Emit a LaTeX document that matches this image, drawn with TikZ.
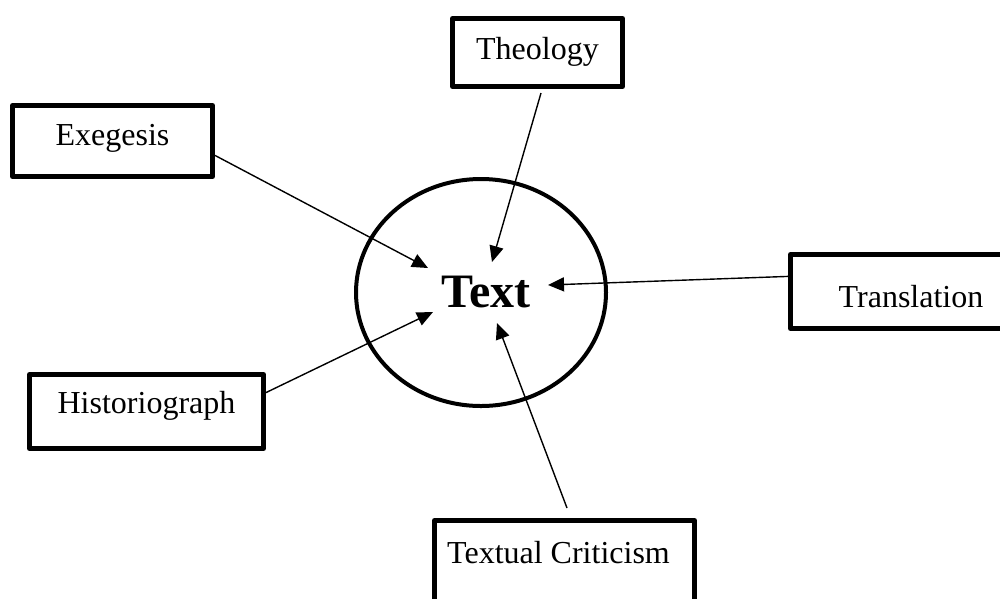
\documentclass[tikz,border=0pt]{standalone}
\usepackage{fontspec}
\setmainfont{Liberation Serif}
\usetikzlibrary{arrows.meta,shapes.geometric,calc}
\begin{document}
\begin{tikzpicture}[x=1pt,y=-1pt,
  box/.style={draw, line width=5pt, line join=round, rectangle, inner ysep=0pt, inner xsep=0pt, anchor=base, font=\fontsize{32}{38}\selectfont},
  hub/.style={draw, ellipse, line width=4pt, inner sep=0pt, font=\fontsize{48}{56}\selectfont\bfseries},
  arr/.style={line width=1.4pt, -{Triangle[length=16pt,width=14pt]}}]
\useasboundingbox (0,0) rectangle (1000,598);
\node[box, minimum width=170pt, text height=40.5pt, text depth=27.5pt] (theo) at (537.5,59) {Theology};
\node[box, minimum width=200pt, text height=39.5pt, text depth=31.5pt] (exe) at (112.5,145) {Exegesis};
\node[box, minimum width=241pt, text height=52.5pt, text depth=21.5pt] (trans) at (911,307) {Translation};
\node[box, minimum width=234pt, text height=38.5pt, text depth=35.5pt] (hist) at (146.5,413) {Historiograph};
\node[box, minimum width=260pt, text height=42.5pt, text depth=45pt] (tc) at (564.5,563) {\hspace*{-12pt}Textual Criticism};
\node[hub, minimum width=250pt, minimum height=227pt] (hub) at (481,292.5) {\hspace*{10pt}Text};
\coordinate (tE) at (428,268);
\coordinate (tT) at (492,262);
\coordinate (tR) at (548,285);
\coordinate (tH) at (433,312);
\coordinate (tC) at (497,323);
\draw[arr] (exe.-8.3) -- (tE);
\draw[arr] ($(theo.south)+(3.5,4)$) -- (tT);
\draw[arr] (trans.173.3) -- (tR);
\draw[arr] (hist.9.3) -- (tH);
\draw[arr] ($(tc.north)+(2.5,-10)$) -- (tC);
\end{tikzpicture}
\end{document}
